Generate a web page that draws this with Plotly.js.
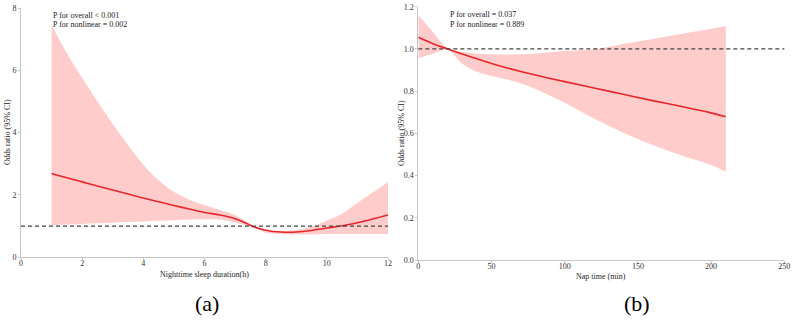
<!DOCTYPE html>
<html>
<head>
<meta charset="utf-8">
<script src="https://cdn.plot.ly/plotly-3.0.1.min.js"></script>
<style>
  html, body { margin: 0; padding: 0; background: #fff; }
  #chart { width: 794px; height: 331px; }
</style>
</head>
<body>
<div id="chart"></div>
<script>
// (a) Nighttime sleep duration (h) vs odds ratio, with 95% CI
const sleepHours = [1, 1.5, 2, 2.5, 3, 3.5, 4, 4.5, 5, 5.5, 6, 6.5, 7, 7.5, 7.6, 8, 8.5, 9, 9.5, 10, 10.5, 11, 11.5, 12];
const sleepOR    = [2.69, 2.55, 2.42, 2.29, 2.16, 2.03, 1.90, 1.78, 1.66, 1.55, 1.44, 1.36, 1.24, 1.03, 0.98, 0.87, 0.81, 0.81, 0.86, 0.94, 1.01, 1.11, 1.23, 1.36];
const sleepLower = [1.03, 1.05, 1.07, 1.09, 1.11, 1.13, 1.15, 1.17, 1.19, 1.21, 1.22, 1.21, 1.12, 1.00, 0.97, 0.79, 0.74, 0.73, 0.74, 0.75, 0.75, 0.75, 0.75, 0.75];
const sleepUpper = [7.45, 6.55, 5.75, 5.00, 4.28, 3.60, 2.97, 2.47, 2.10, 1.85, 1.68, 1.52, 1.36, 1.06, 0.99, 0.88, 0.85, 0.88, 0.98, 1.18, 1.40, 1.75, 2.08, 2.42];

// (b) Nap time (min) vs odds ratio, with 95% CI
const napMinutes = [0, 10, 20, 30, 40, 50, 60, 70, 80, 90, 100, 120, 140, 160, 180, 200, 210];
const napOR      = [1.055, 1.025, 1.000, 0.976, 0.953, 0.931, 0.911, 0.893, 0.876, 0.860, 0.845, 0.815, 0.785, 0.755, 0.727, 0.697, 0.679];
const napLower   = [0.956, 0.977, 0.996, 0.930, 0.892, 0.872, 0.856, 0.836, 0.810, 0.778, 0.745, 0.670, 0.603, 0.545, 0.495, 0.450, 0.418];
const napUpper   = [1.161, 1.080, 1.003, 0.985, 0.978, 0.975, 0.974, 0.975, 0.978, 0.984, 0.990, 0.998, 1.023, 1.047, 1.072, 1.096, 1.109];

// Reference odds ratio
const refOR = 1;

// Axis tick labels
const sleepTicks = [0, 2, 4, 6, 8, 10, 12];
const sleepYTicks = [0, 2, 4, 6, 8];
const napTicks = [0, 50, 100, 150, 200, 250];
const napYTicks = [0, 0.2, 0.4, 0.6, 0.8, 1.0, 1.2];

const texts = {
  yTitle: 'Odds ratio (95% CI)',
  sleepX: 'Nighttime sleep duration(h)',
  napX: 'Nap time (min)',
  sleepP: ['P for overall < 0.001', 'P for nonlinear = 0.002'],
  napP: ['P for overall = 0.037', 'P for nonlinear = 0.889'],
  panels: ['(a)', '(b)']
};

const W = 794, H = 331;
const px = x => x / W;
const py = y => 1 - y / H;

const FONT = 'Liberation Serif';
const BAND = '#ffcccc';
const LINE = '#e8262b';
const AXIS = '#c8c8c8';

function bandTraces(x, lo, hi, mid, xa, ya) {
  return [
    { x: x, y: lo, xaxis: xa, yaxis: ya, type: 'scatter', mode: 'lines',
      line: { width: 0, shape: 'spline', smoothing: 1 }, hoverinfo: 'skip', showlegend: false },
    { x: x, y: hi, xaxis: xa, yaxis: ya, type: 'scatter', mode: 'lines',
      fill: 'tonexty', fillcolor: BAND,
      line: { width: 0, shape: 'spline', smoothing: 1 }, hoverinfo: 'skip', showlegend: false },
    { x: x, y: mid, xaxis: xa, yaxis: ya, type: 'scatter', mode: 'lines',
      line: { color: LINE, width: 1.6, shape: 'spline', smoothing: 1 }, showlegend: false }
  ];
}

const data = [
  ...bandTraces(sleepHours, sleepLower, sleepUpper, sleepOR, 'x', 'y'),
  ...bandTraces(napMinutes, napLower, napUpper, napOR, 'x2', 'y2')
];

const axisCommon = {
  showline: true, linecolor: AXIS, linewidth: 1,
  ticks: 'outside', ticklen: 2, tickcolor: AXIS, tickwidth: 1,
  showgrid: false, zeroline: false,
  tickfont: { family: FONT, size: 8, color: '#333' }
};

const layout = {
  width: W, height: H,
  margin: { l: 0, r: 0, t: 0, b: 0 },
  paper_bgcolor: '#fff', plot_bgcolor: 'rgba(0,0,0,0)',
  font: { family: FONT },
  showlegend: false,
  xaxis: Object.assign({}, axisCommon, {
    domain: [px(21), px(388)], range: [0, 12], anchor: 'y',
    tickvals: sleepTicks, ticklabelstandoff: -4
  }),
  yaxis: Object.assign({}, axisCommon, {
    domain: [py(257.3), py(8)], range: [0, 8], anchor: 'x',
    tickvals: sleepYTicks
  }),
  xaxis2: Object.assign({}, axisCommon, {
    domain: [px(418.3), px(784.3)], range: [0, 250], anchor: 'y2',
    tickvals: napTicks, ticklabelstandoff: -4
  }),
  yaxis2: Object.assign({}, axisCommon, {
    domain: [py(260), py(6.7)], range: [0, 1.2], anchor: 'x2',
    tickvals: napYTicks, tickformat: '.1f'
  }),
  shapes: [
    { type: 'line', xref: 'x domain', yref: 'y', x0: 0, x1: 1, y0: refOR, y1: refOR,
      line: { color: '#444', width: 1.2, dash: '4px,3px' } },
    { type: 'line', xref: 'x2 domain', yref: 'y2', x0: 0, x1: 1, y0: refOR, y1: refOR,
      line: { color: '#444', width: 1.2, dash: '4px,3px' } }
  ],
  annotations: [
    // P-value notes
    { text: texts.sleepP[0], x: px(51), y: py(15.5), xref: 'paper', yref: 'paper',
      xanchor: 'left', yanchor: 'middle', showarrow: false, font: { family: FONT, size: 8, color: '#222' } },
    { text: texts.sleepP[1], x: px(51), y: py(24.5), xref: 'paper', yref: 'paper',
      xanchor: 'left', yanchor: 'middle', showarrow: false, font: { family: FONT, size: 8, color: '#222' } },
    { text: texts.napP[0], x: px(448), y: py(15), xref: 'paper', yref: 'paper',
      xanchor: 'left', yanchor: 'middle', showarrow: false, font: { family: FONT, size: 8, color: '#222' } },
    { text: texts.napP[1], x: px(448), y: py(24), xref: 'paper', yref: 'paper',
      xanchor: 'left', yanchor: 'middle', showarrow: false, font: { family: FONT, size: 8, color: '#222' } },
    // Axis titles
    { text: texts.yTitle, x: px(7), y: py(132), xref: 'paper', yref: 'paper', textangle: -90,
      xanchor: 'center', yanchor: 'middle', showarrow: false, font: { family: FONT, size: 8, color: '#222' } },
    { text: texts.yTitle, x: px(401), y: py(133), xref: 'paper', yref: 'paper', textangle: -90,
      xanchor: 'center', yanchor: 'middle', showarrow: false, font: { family: FONT, size: 8, color: '#222' } },
    { text: texts.sleepX, x: px(204.5), y: py(274), xref: 'paper', yref: 'paper',
      xanchor: 'center', yanchor: 'middle', showarrow: false, font: { family: FONT, size: 8, color: '#222' } },
    { text: texts.napX, x: px(601), y: py(276), xref: 'paper', yref: 'paper',
      xanchor: 'center', yanchor: 'middle', showarrow: false, font: { family: FONT, size: 8, color: '#222' } },
    // Panel labels
    { text: texts.panels[0], x: px(207), y: py(303), xref: 'paper', yref: 'paper',
      xanchor: 'center', yanchor: 'middle', showarrow: false, font: { family: FONT, size: 22, color: '#000' } },
    { text: texts.panels[1], x: px(637), y: py(303), xref: 'paper', yref: 'paper',
      xanchor: 'center', yanchor: 'middle', showarrow: false, font: { family: FONT, size: 22, color: '#000' } }
  ]
};

Plotly.newPlot('chart', data, layout, { staticPlot: true, displayModeBar: false });
</script>
</body>
</html>
